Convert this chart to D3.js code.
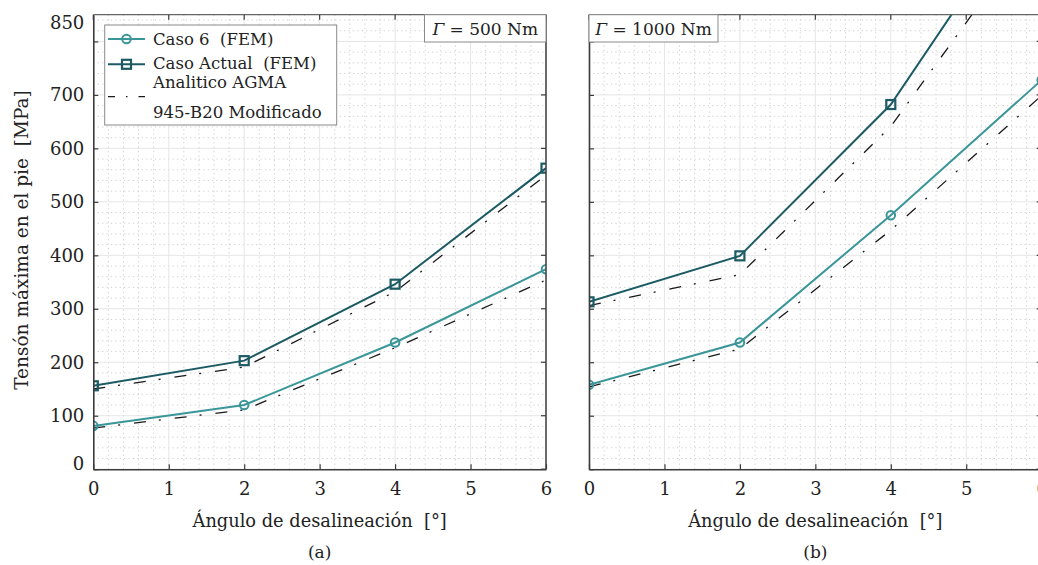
<!DOCTYPE html>
<html>
<head>
<meta charset="utf-8">
<script src="https://cdn.jsdelivr.net/npm/d3@7"></script>
<style>
  html, body { margin: 0; padding: 0; background: #fff; }
  svg { display: block; }
  svg text { font-family: "DejaVu Serif", "Liberation Serif", serif !important; fill: #222; white-space: pre; }
</style>
</head>
<body>
<svg id="chart" width="1038" height="565"></svg>
<script>
// ---------------- data ----------------
const xValues = [0, 2, 4, 6];
// Panel (a): Γ = 500 Nm
const caso6_500 = [81, 120, 237, 374];
const casoActual_500 = [156, 203, 346, 563];
const agmaCaso6_500 = [77, 111, 227, 354];
const agmaActual_500 = [150, 191, 332, 550];
// Panel (b): Γ = 1000 Nm
const caso6_1000 = [158, 237, 475, 728];
const casoActual_1000 = [313, 399, 682, 1100];
const agmaCaso6_1000 = [154, 225, 447, 699];
const agmaActual_1000 = [306, 364, 641, 1030];

const xTicks = [0, 1, 2, 3, 4, 5, 6];
const yTicks = [0, 100, 200, 300, 400, 500, 600, 700, 800];
const yTickLabels = [0, 100, 200, 300, 400, 500, 600, 700, 850];
const panelTitles = ["500 Nm", "1000 Nm"];
const panelLetters = ["(a)", "(b)"];
const legendLabels = ["Caso 6  (FEM)", "Caso Actual  (FEM)", ["Analitico AGMA", "945-B20 Modificado"]];
const xTitle = "Ángulo de desalineación  [°]";
const yTitle = "Tensón máxima en el pie  [MPa]";

// ---------------- layout ----------------
const svg = d3.select("#chart");
const colCaso6 = "#3a9699";
const colActual = "#1c5b63";
const colAgma = "#1a1a1a";
const axisCol = "#3c3c3c";
const dashPattern = "12,13,2,14";
const fTick = 18, fTitle = 17.8, fYTitle = 18.5, fLegend = 16.5, fBox = 17;

const yTop = 14.7, yBottom = 469.2;
const panels = [
  { x0: 93.3, x1: 546, caso6: caso6_500, actual: casoActual_500, agma6: agmaCaso6_500, agmaA: agmaActual_500, labels: true, title: panelTitles[0], letter: panelLetters[0], boxW: 121.5 },
  { x0: 589, x1: 1041.7, caso6: caso6_1000, actual: casoActual_1000, agma6: agmaCaso6_1000, agmaA: agmaActual_1000, labels: false, title: panelTitles[1], letter: panelLetters[1], boxW: 129 }
];

const y = d3.scaleLinear().domain([0, 850]).range([yBottom, yTop]);

panels.forEach((p, i) => {
  const x = d3.scaleLinear().domain([0, 6]).range([p.x0, p.x1]);
  const g = svg.append("g");
  const clipId = "clip" + i;
  svg.append("defs").append("clipPath").attr("id", clipId)
    .append("rect").attr("x", p.x0).attr("y", yTop).attr("width", p.x1 - p.x0).attr("height", yBottom - yTop);

  // minor grid
  const minorX = d3.range(0, 6.0001, 0.2).filter(v => Math.abs(v - Math.round(v)) > 1e-6);
  const minorY = d3.range(0, 851, 20).filter(v => v % 100 !== 0);
  g.append("g").selectAll("line").data(minorX).join("line")
    .attr("x1", d => x(d)).attr("x2", d => x(d)).attr("y1", yTop).attr("y2", yBottom)
    .attr("stroke", "#c8c8c8").attr("stroke-width", 0.9).attr("stroke-dasharray", "1.2,3.2");
  g.append("g").selectAll("line").data(minorY).join("line")
    .attr("x1", p.x0).attr("x2", p.x1).attr("y1", d => y(d)).attr("y2", d => y(d))
    .attr("stroke", "#c8c8c8").attr("stroke-width", 0.9).attr("stroke-dasharray", "1.2,3.2");
  // major grid
  g.append("g").selectAll("line").data(xTicks).join("line")
    .attr("x1", d => x(d)).attr("x2", d => x(d)).attr("y1", yTop).attr("y2", yBottom)
    .attr("stroke", "#e6e6e6").attr("stroke-width", 1);
  g.append("g").selectAll("line").data(yTicks).join("line")
    .attr("x1", p.x0).attr("x2", p.x1).attr("y1", d => y(d)).attr("y2", d => y(d))
    .attr("stroke", "#e6e6e6").attr("stroke-width", 1);

  // data lines
  const plot = g.append("g").attr("clip-path", `url(#${clipId})`);
  const line = d3.line().x((d, j) => x(xValues[j])).y(d => y(d));
  plot.append("path").datum(p.agma6).attr("d", line).attr("fill", "none")
    .attr("stroke", colAgma).attr("stroke-width", 1.3).attr("stroke-dasharray", dashPattern);
  plot.append("path").datum(p.agmaA).attr("d", line).attr("fill", "none")
    .attr("stroke", colAgma).attr("stroke-width", 1.3).attr("stroke-dasharray", dashPattern);
  plot.append("path").datum(p.caso6).attr("d", line).attr("fill", "none")
    .attr("stroke", colCaso6).attr("stroke-width", 2);
  plot.append("path").datum(p.actual).attr("d", line).attr("fill", "none")
    .attr("stroke", colActual).attr("stroke-width", 2);
  // markers
  plot.append("g").selectAll("circle").data(p.caso6).join("circle")
    .attr("cx", (d, j) => x(xValues[j])).attr("cy", d => y(d)).attr("r", 4.3)
    .attr("fill", "none").attr("stroke", colCaso6).attr("stroke-width", 2);
  plot.append("g").selectAll("rect").data(p.actual).join("rect")
    .attr("x", (d, j) => x(xValues[j]) - 4.5).attr("y", d => y(d) - 4.5)
    .attr("width", 9).attr("height", 9)
    .attr("fill", "none").attr("stroke", colActual).attr("stroke-width", 2.2);

  // axes frame
  const frame = g.append("g");
  frame.append("line").attr("x1", p.x0).attr("x2", p.x1).attr("y1", yTop).attr("y2", yTop).attr("stroke", "#666").attr("stroke-width", 1.3);
  frame.append("line").attr("x1", p.x1).attr("x2", p.x1).attr("y1", yTop).attr("y2", yBottom).attr("stroke", axisCol).attr("stroke-width", 1.5);
  // bottom axis
  const xAxis = d3.axisBottom(x).tickValues(xTicks).tickSizeInner(-5).tickSizeOuter(0).tickPadding(13).tickFormat(d3.format("d"));
  const gx = g.append("g").attr("transform", `translate(0,${yBottom})`).call(xAxis);
  gx.select(".domain").attr("stroke", axisCol).attr("stroke-width", 1.6);
  gx.selectAll(".tick line").attr("stroke", axisCol).attr("stroke-width", 1.2);
  gx.selectAll("text").attr("font-size", fTick).attr("fill", "#222");
  // top ticks
  g.append("g").selectAll("line").data(xTicks).join("line")
    .attr("x1", d => x(d)).attr("x2", d => x(d)).attr("y1", yTop).attr("y2", yTop + 5)
    .attr("stroke", axisCol).attr("stroke-width", 1.2);
  // left axis
  const yAxis = d3.axisLeft(y).tickValues(yTicks).tickSizeInner(-5).tickSizeOuter(0).tickFormat("");
  const gy = g.append("g").attr("transform", `translate(${p.x0},0)`).call(yAxis);
  gy.select(".domain").attr("stroke", axisCol).attr("stroke-width", 1.6);
  gy.selectAll(".tick line").attr("stroke", axisCol).attr("stroke-width", 1.2);
  // right ticks
  g.append("g").selectAll("line").data(yTicks).join("line")
    .attr("x1", p.x1).attr("x2", p.x1 - 5).attr("y1", d => y(d)).attr("y2", d => y(d))
    .attr("stroke", axisCol).attr("stroke-width", 1.2);

  if (p.labels) {
    g.append("g").selectAll("text").data(yTickLabels).join("text")
      .attr("x", p.x0 - 9)
      .attr("y", d => y(d) + (d === 0 ? -6 : d === 850 ? 8 : 0))
      .attr("dy", "0.35em").attr("text-anchor", "end").attr("font-size", fTick)
      .text(d => d);
  }

  // title box
  const bx = i === 0 ? p.x1 - p.boxW : p.x0;
  g.append("rect").attr("x", bx).attr("y", yTop).attr("width", p.boxW).attr("height", 27.3)
    .attr("fill", "#fff").attr("stroke", "#8a8a8a").attr("stroke-width", 1);
  const tt = g.append("text").attr("x", bx + p.boxW / 2).attr("y", yTop + 20)
    .attr("text-anchor", "middle").attr("font-size", fBox);
  tt.append("tspan").attr("font-style", "italic").text("Γ");
  tt.append("tspan").text(" = " + p.title);

  // x title + letter
  g.append("text").attr("x", (p.x0 + p.x1) / 2).attr("y", 527).attr("text-anchor", "middle")
    .attr("font-size", fTitle).text(xTitle);
  g.append("text").attr("x", (p.x0 + p.x1) / 2).attr("y", 558).attr("text-anchor", "middle")
    .attr("font-size", 17).text(p.letter);
});

// y title
svg.append("text").attr("transform", `translate(28,${240}) rotate(-90)`).attr("text-anchor", "middle")
  .attr("font-size", fYTitle).text(yTitle);

// legend
const lg = svg.append("g");
lg.append("rect").attr("x", 104.7).attr("y", 25).attr("width", 232).attr("height", 100)
  .attr("fill", "#fff").attr("stroke", "#8a8a8a").attr("stroke-width", 1);
const ly = [39, 64.3, 96.7];
lg.append("line").attr("x1", 108).attr("x2", 145).attr("y1", ly[0]).attr("y2", ly[0]).attr("stroke", colCaso6).attr("stroke-width", 2);
lg.append("circle").attr("cx", 126.5).attr("cy", ly[0]).attr("r", 4.3).attr("fill", "none").attr("stroke", colCaso6).attr("stroke-width", 2);
lg.append("line").attr("x1", 108).attr("x2", 145).attr("y1", ly[1]).attr("y2", ly[1]).attr("stroke", colActual).attr("stroke-width", 2);
lg.append("rect").attr("x", 122).attr("y", ly[1] - 4.5).attr("width", 9).attr("height", 9).attr("fill", "none").attr("stroke", colActual).attr("stroke-width", 2.2);
lg.append("line").attr("x1", 108).attr("x2", 145).attr("y1", ly[2]).attr("y2", ly[2]).attr("stroke", colAgma).attr("stroke-width", 1.3).attr("stroke-dasharray", "7,11,1.5,11");
lg.append("text").attr("x", 153).attr("y", ly[0] + 5.5).attr("font-size", fLegend).text(legendLabels[0]);
lg.append("text").attr("x", 153).attr("y", ly[1] + 4.8).attr("font-size", fLegend).text(legendLabels[1]);
lg.append("text").attr("x", 153).attr("y", 87.5).attr("font-size", fLegend).text(legendLabels[2][0]);
lg.append("text").attr("x", 153).attr("y", 117.5).attr("font-size", fLegend).text(legendLabels[2][1]);
</script>
</body>
</html>
